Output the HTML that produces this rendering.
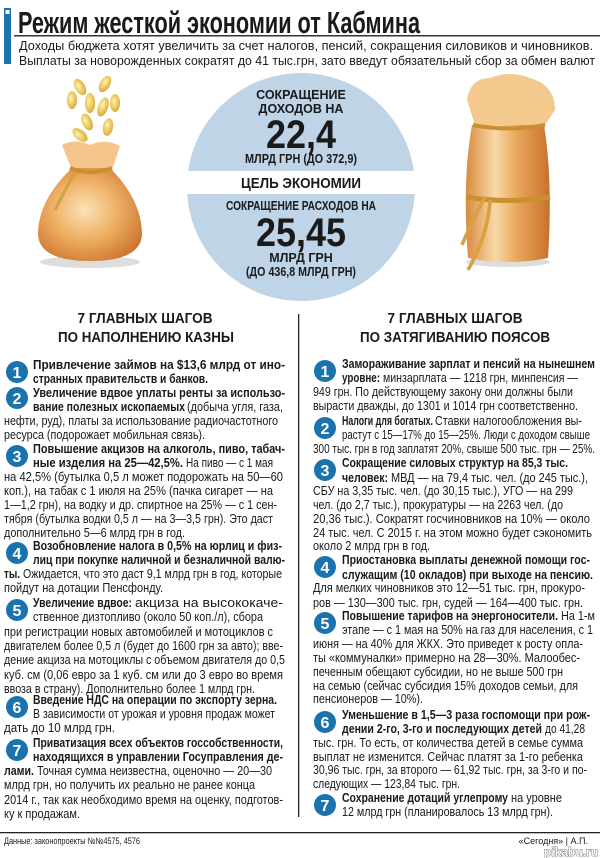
<!DOCTYPE html>
<html><head><meta charset="utf-8"><style>
html,body{margin:0;padding:0;background:#fff;}
svg{display:block;}
text{font-family:"Liberation Sans Narrow","Liberation Sans",sans-serif;fill:#1a1a1a;}
.b{font-weight:bold;font-size:13px;}
.r{font-size:13px;}
.h{font-weight:bold;font-size:14.5px;}
.c{font-weight:bold;}
.n{font-weight:bold;font-size:16px;fill:#fff;}
</style></head><body>
<svg width="600" height="858" viewBox="0 0 600 858" xmlns="http://www.w3.org/2000/svg">
<defs>
<radialGradient id="bag" cx="45%" cy="45%" r="65%"><stop offset="0" stop-color="#fbe3b8"/><stop offset="0.5" stop-color="#eeae62"/><stop offset="1" stop-color="#c9722c"/></radialGradient>
<linearGradient id="bag2" x1="0" x2="1"><stop offset="0" stop-color="#d98a3e"/><stop offset="0.35" stop-color="#f8d9a8"/><stop offset="0.6" stop-color="#eaa95c"/><stop offset="1" stop-color="#c7712c"/></linearGradient>
<radialGradient id="coin" cx="40%" cy="40%" r="70%"><stop offset="0" stop-color="#fff3b0"/><stop offset="1" stop-color="#d7a322"/></radialGradient>
</defs>
<!-- header -->
<rect x="4" y="8" width="7" height="56" fill="#1b73ad"/>
<rect x="5.5" y="10" width="4" height="4" fill="#fff"/>
<text x="18" y="33" style="font-weight:bold;font-size:31px" textLength="402" lengthAdjust="spacingAndGlyphs">Режим жесткой экономии от Кабмина</text>
<rect x="14" y="35" width="586" height="1.5" fill="#333"/>
<text x="19" y="50" style="font-size:13px" textLength="574" lengthAdjust="spacingAndGlyphs">Доходы бюджета хотят увеличить за счет налогов, пенсий, сокращения силовиков и чиновников.</text>
<text x="19" y="65" style="font-size:13px" textLength="576" lengthAdjust="spacingAndGlyphs">Выплаты за новорожденных сократят до 41 тыс.грн, зато введут обязательный сбор за обмен валют</text>
<!-- circle -->
<circle cx="301" cy="187" r="114" fill="#bfd4e6"/>
<rect x="180" y="171" width="245" height="23" fill="#fff"/>
<text x="301" y="99" class="c" style="font-size:12.5px" text-anchor="middle">СОКРАЩЕНИЕ</text>
<text x="301" y="113" class="c" style="font-size:12.5px" text-anchor="middle">ДОХОДОВ НА</text>
<text x="301" y="148" class="c" style="font-size:40px" text-anchor="middle" textLength="70" lengthAdjust="spacingAndGlyphs">22,4</text>
<text x="301" y="163" class="c" style="font-size:12.5px" text-anchor="middle" textLength="112" lengthAdjust="spacingAndGlyphs">МЛРД ГРН (ДО 372,9)</text>
<text x="301" y="188" class="c" style="font-size:15px" text-anchor="middle" textLength="120" lengthAdjust="spacingAndGlyphs">ЦЕЛЬ ЭКОНОМИИ</text>
<text x="301" y="210" class="c" style="font-size:12.5px" text-anchor="middle" textLength="150" lengthAdjust="spacingAndGlyphs">СОКРАЩЕНИЕ РАСХОДОВ НА</text>
<text x="301" y="246" class="c" style="font-size:40px" text-anchor="middle" textLength="90" lengthAdjust="spacingAndGlyphs">25,45</text>
<text x="301" y="262" class="c" style="font-size:12.5px" text-anchor="middle">МЛРД ГРН</text>
<text x="301" y="276" class="c" style="font-size:12.5px" text-anchor="middle" textLength="110" lengthAdjust="spacingAndGlyphs">(ДО 436,8 МЛРД ГРН)</text>
<!-- left bag -->
<g>
<ellipse cx="90" cy="262" rx="50" ry="6" fill="#ddd"/>
<ellipse cx="80" cy="87" rx="5" ry="9" fill="url(#coin)" transform="rotate(-30 80 87)"/>
<ellipse cx="105" cy="84" rx="5" ry="9" fill="url(#coin)" transform="rotate(30 105 84)"/>
<ellipse cx="72" cy="100" rx="5" ry="9" fill="url(#coin)"/>
<ellipse cx="90" cy="103" rx="5" ry="10" fill="url(#coin)"/>
<ellipse cx="103" cy="107" rx="5" ry="10" fill="url(#coin)" transform="rotate(20 103 107)"/>
<ellipse cx="115" cy="103" rx="5" ry="9" fill="url(#coin)"/>
<ellipse cx="87" cy="122" rx="5" ry="9" fill="url(#coin)" transform="rotate(-25 87 122)"/>
<ellipse cx="108" cy="127" rx="5" ry="9" fill="url(#coin)" transform="rotate(10 108 127)"/>
<ellipse cx="80" cy="135" rx="5" ry="9" fill="url(#coin)" transform="rotate(-50 80 135)"/>
<path d="M62 145 Q75 138 90 145 Q105 138 120 146 L112 170 L72 170 Z" fill="#f3c58a"/>
<path d="M72 168 Q38 200 38 235 Q40 261 90 261 Q140 261 142 235 Q142 200 110 168 Z" fill="url(#bag)"/>
<path d="M70 168 Q90 176 112 168" stroke="#c99030" stroke-width="4" fill="none"/>
<path d="M75 172 Q65 190 55 210" stroke="#d7a040" stroke-width="3" fill="none"/>
</g>
<!-- right bag -->
<g>
<ellipse cx="508" cy="262" rx="42" ry="5" fill="#ddd"/>
<path d="M467 100 Q470 78 490 78 Q510 70 530 78 Q555 85 555 110 L545 125 L475 125 Z" fill="#f3c98e"/>
<path d="M472 125 Q462 180 468 258 Q508 266 548 258 Q553 180 544 125 Z" fill="url(#bag2)"/>
<path d="M473 125 Q508 132 545 125" stroke="#c99030" stroke-width="4" fill="none"/>
<path d="M466 197 Q508 204 550 197" stroke="#c99030" stroke-width="5" fill="none"/>
<path d="M485 197 Q470 225 462 245 M490 200 Q488 235 468 270" stroke="#d7a040" stroke-width="3.5" fill="none"/>
</g>
<!-- headings -->
<text x="145" y="323" class="h" text-anchor="middle" textLength="135" lengthAdjust="spacingAndGlyphs">7 ГЛАВНЫХ ШАГОВ</text>
<text x="146" y="342" class="h" text-anchor="middle" textLength="176" lengthAdjust="spacingAndGlyphs">ПО НАПОЛНЕНИЮ КАЗНЫ</text>
<text x="455" y="323" class="h" text-anchor="middle" textLength="135" lengthAdjust="spacingAndGlyphs">7 ГЛАВНЫХ ШАГОВ</text>
<text x="455" y="342" class="h" text-anchor="middle" textLength="190" lengthAdjust="spacingAndGlyphs">ПО ЗАТЯГИВАНИЮ ПОЯСОВ</text>
<rect x="298" y="314" width="1.3" height="503" fill="#222"/>
<!-- number circles -->
<g fill="#1b73ad">
<circle cx="17" cy="372" r="11"/><circle cx="17" cy="398" r="11"/><circle cx="17" cy="456" r="11"/><circle cx="17" cy="553" r="11"/><circle cx="17" cy="610" r="11"/><circle cx="17" cy="707" r="11"/><circle cx="17" cy="750" r="11"/>
<circle cx="325" cy="371" r="11"/><circle cx="325" cy="428" r="11"/><circle cx="325" cy="470" r="11"/><circle cx="325" cy="567" r="11"/><circle cx="325" cy="623" r="11"/><circle cx="325" cy="722" r="11"/><circle cx="325" cy="805" r="11"/>
</g>
<g text-anchor="middle">
<text class="n" x="17" y="378">1</text><text class="n" x="17" y="404">2</text><text class="n" x="17" y="462">3</text><text class="n" x="17" y="559">4</text><text class="n" x="17" y="616">5</text><text class="n" x="17" y="713">6</text><text class="n" x="17" y="756">7</text>
<text class="n" x="325" y="377">1</text><text class="n" x="325" y="434">2</text><text class="n" x="325" y="476">3</text><text class="n" x="325" y="573">4</text><text class="n" x="325" y="629">5</text><text class="n" x="325" y="728">6</text><text class="n" x="325" y="811">7</text>
</g>
<!-- left column -->
<g>
<text class="b" x="33" y="369" textLength="252" lengthAdjust="spacingAndGlyphs">Привлечение займов на $13,6 млрд от ино-</text>
<text class="b" x="33" y="383" textLength="175" lengthAdjust="spacingAndGlyphs">странных правительств и банков.</text>
<text class="b" x="33" y="397" textLength="252" lengthAdjust="spacingAndGlyphs">Увеличение вдвое уплаты ренты за использо-</text>
<text class="b" x="33" y="411" textLength="152" lengthAdjust="spacingAndGlyphs">вание полезных ископаемых</text>
<text class="r" x="187" y="411" textLength="96" lengthAdjust="spacingAndGlyphs">(добыча угля, газа,</text>
<text class="r" x="4" y="425" textLength="274" lengthAdjust="spacingAndGlyphs">нефти, руд), платы за использование радиочастотного</text>
<text class="r" x="4" y="439" textLength="201" lengthAdjust="spacingAndGlyphs">ресурса (подорожает мобильная связь).</text>
<text class="b" x="33" y="453" textLength="252" lengthAdjust="spacingAndGlyphs">Повышение акцизов на алкоголь, пиво, табач-</text>
<text class="b" x="33" y="467" textLength="150" lengthAdjust="spacingAndGlyphs">ные изделия на 25—42,5%.</text>
<text class="r" x="186" y="467" textLength="87" lengthAdjust="spacingAndGlyphs">На пиво — с 1 мая</text>
<text class="r" x="4" y="481" textLength="279" lengthAdjust="spacingAndGlyphs">на 42,5% (бутылка 0,5 л может подорожать на 50—60</text>
<text class="r" x="4" y="495" textLength="269" lengthAdjust="spacingAndGlyphs">коп.), на табак с 1 июля на 25% (пачка сигарет — на</text>
<text class="r" x="4" y="509" textLength="273" lengthAdjust="spacingAndGlyphs">1—1,2 грн), на водку и др. спиртное на 25% — с 1 сен-</text>
<text class="r" x="4" y="523" textLength="269" lengthAdjust="spacingAndGlyphs">тября (бутылка водки 0,5 л — на 3—3,5 грн). Это даст</text>
<text class="r" x="4" y="537" textLength="181" lengthAdjust="spacingAndGlyphs">дополнительно 5—6 млрд грн в год.</text>
<text class="b" x="33" y="550" textLength="249" lengthAdjust="spacingAndGlyphs">Возобновление налога в 0,5% на юрлиц и физ-</text>
<text class="b" x="33" y="564" textLength="252" lengthAdjust="spacingAndGlyphs">лиц при покупке наличной и безналичной валю-</text>
<text class="b" x="4" y="578" textLength="16" lengthAdjust="spacingAndGlyphs">ты.</text>
<text class="r" x="23" y="578" textLength="259" lengthAdjust="spacingAndGlyphs">Ожидается, что это даст 9,1 млрд грн в год, которые</text>
<text class="r" x="4" y="592" textLength="159" lengthAdjust="spacingAndGlyphs">пойдут на дотации Пенсфонду.</text>
<text class="b" x="33" y="607" textLength="99" lengthAdjust="spacingAndGlyphs">Увеличение вдвое:</text>
<text class="r" x="135" y="607" textLength="148" lengthAdjust="spacingAndGlyphs">акциза на высококаче-</text>
<text class="r" x="33" y="621" textLength="230" lengthAdjust="spacingAndGlyphs">ственное дизтопливо (около 50 коп./л), сбора</text>
<text class="r" x="4" y="636" textLength="269" lengthAdjust="spacingAndGlyphs">при регистрации новых автомобилей и мотоциклов с</text>
<text class="r" x="4" y="650" textLength="279" lengthAdjust="spacingAndGlyphs">двигателем более 0,5 л (будет до 1600 грн за авто); вве-</text>
<text class="r" x="4" y="664" textLength="281" lengthAdjust="spacingAndGlyphs">дение акциза на мотоциклы с объемом двигателя до 0,5</text>
<text class="r" x="4" y="679" textLength="279" lengthAdjust="spacingAndGlyphs">куб. см (0,06 евро за 1 куб. см или до 3 евро во время</text>
<text class="r" x="4" y="693" textLength="251" lengthAdjust="spacingAndGlyphs">ввоза в страну). Дополнительно более 1 млрд грн.</text>
<text class="b" x="33" y="704" textLength="244" lengthAdjust="spacingAndGlyphs">Введение НДС на операции по экспорту зерна.</text>
<text class="r" x="33" y="718" textLength="242" lengthAdjust="spacingAndGlyphs">В зависимости от урожая и уровня продаж может</text>
<text class="r" x="4" y="732" textLength="111" lengthAdjust="spacingAndGlyphs">дать до 10 млрд грн.</text>
<text class="b" x="33" y="747" textLength="250" lengthAdjust="spacingAndGlyphs">Приватизация всех объектов госсобственности,</text>
<text class="b" x="33" y="761" textLength="250" lengthAdjust="spacingAndGlyphs">находящихся в управлении Госуправления де-</text>
<text class="b" x="4" y="775" textLength="30" lengthAdjust="spacingAndGlyphs">лами.</text>
<text class="r" x="37" y="775" textLength="235" lengthAdjust="spacingAndGlyphs">Точная сумма неизвестна, оценочно — 20—30</text>
<text class="r" x="4" y="789" textLength="251" lengthAdjust="spacingAndGlyphs">млрд грн, но получить их реально не ранее конца</text>
<text class="r" x="4" y="804" textLength="279" lengthAdjust="spacingAndGlyphs">2014 г., так как необходимо время на оценку, подготов-</text>
<text class="r" x="4" y="818" textLength="76" lengthAdjust="spacingAndGlyphs">ку к продажам.</text>
</g>
<!-- right column -->
<g>
<text class="b" x="342" y="368" textLength="253" lengthAdjust="spacingAndGlyphs">Замораживание зарплат и пенсий на нынешнем</text>
<text class="b" x="342" y="382" textLength="38" lengthAdjust="spacingAndGlyphs">уровне:</text>
<text class="r" x="383" y="382" textLength="195" lengthAdjust="spacingAndGlyphs">минзарплата — 1218 грн, минпенсия —</text>
<text class="r" x="313" y="396" textLength="260" lengthAdjust="spacingAndGlyphs">949 грн. По действующему закону они должны были</text>
<text class="r" x="313" y="410" textLength="265" lengthAdjust="spacingAndGlyphs">вырасти дважды,  до 1301 и 1014 грн соответственно.</text>
<text class="b" x="342" y="425" textLength="91" lengthAdjust="spacingAndGlyphs">Налоги для богатых.</text>
<text class="r" x="435" y="425" textLength="147" lengthAdjust="spacingAndGlyphs">Ставки налогообложения вы-</text>
<text class="r" x="342" y="439" textLength="248" lengthAdjust="spacingAndGlyphs">растут с 15—17% до 15—25%. Люди с доходом свыше</text>
<text class="r" x="313" y="453" textLength="282" lengthAdjust="spacingAndGlyphs">300 тыс. грн в год заплатят 20%, свыше 500 тыс. грн — 25%.</text>
<text class="b" x="342" y="467" textLength="226" lengthAdjust="spacingAndGlyphs">Сокращение силовых структур на 85,3 тыс.</text>
<text class="b" x="342" y="482" textLength="46" lengthAdjust="spacingAndGlyphs">человек:</text>
<text class="r" x="391" y="482" textLength="197" lengthAdjust="spacingAndGlyphs">МВД — на 79,4 тыс. чел. (до 245 тыс.),</text>
<text class="r" x="313" y="495" textLength="260" lengthAdjust="spacingAndGlyphs">СБУ на 3,35 тыс. чел. (до 30,15 тыс.), УГО — на 299</text>
<text class="r" x="313" y="509" textLength="250" lengthAdjust="spacingAndGlyphs">чел. (до 2,7 тыс.), прокуратуры — на 2263 чел. (до</text>
<text class="r" x="313" y="523" textLength="277" lengthAdjust="spacingAndGlyphs">20,36 тыс.). Сократят госчиновников на 10% — около</text>
<text class="r" x="313" y="537" textLength="279" lengthAdjust="spacingAndGlyphs">24 тыс. чел. С 2015 г. на этом можно будет сэкономить</text>
<text class="r" x="313" y="550" textLength="117" lengthAdjust="spacingAndGlyphs">около 2 млрд грн в год.</text>
<text class="b" x="342" y="564" textLength="248" lengthAdjust="spacingAndGlyphs">Приостановка выплаты денежной помощи гос-</text>
<text class="b" x="342" y="579" textLength="251" lengthAdjust="spacingAndGlyphs">служащим (10 окладов) при выходе на пенсию.</text>
<text class="r" x="313" y="592" textLength="272" lengthAdjust="spacingAndGlyphs">Для мелких чиновников это 12—51 тыс. грн, прокуро-</text>
<text class="r" x="313" y="607" textLength="270" lengthAdjust="spacingAndGlyphs">ров — 130—300 тыс. грн, судей — 164—400 тыс. грн.</text>
<text class="b" x="342" y="620" textLength="216" lengthAdjust="spacingAndGlyphs">Повышение тарифов на энергоносители.</text>
<text class="r" x="561" y="620" textLength="34" lengthAdjust="spacingAndGlyphs">На 1-м</text>
<text class="r" x="342" y="634" textLength="251" lengthAdjust="spacingAndGlyphs">этапе — с 1 мая на 50% на газ для населения, с 1</text>
<text class="r" x="313" y="648" textLength="270" lengthAdjust="spacingAndGlyphs">июня — на 40% для ЖКХ. Это приведет к росту опла-</text>
<text class="r" x="313" y="662" textLength="267" lengthAdjust="spacingAndGlyphs">ты «коммуналки» примерно на 28—30%. Малообес-</text>
<text class="r" x="313" y="676" textLength="250" lengthAdjust="spacingAndGlyphs">печенным обещают субсидии, но не выше 500 грн</text>
<text class="r" x="313" y="690" textLength="265" lengthAdjust="spacingAndGlyphs">на семью (сейчас субсидия 15% доходов семьи, для</text>
<text class="r" x="313" y="703" textLength="110" lengthAdjust="spacingAndGlyphs">пенсионеров — 10%).</text>
<text class="b" x="342" y="719" textLength="248" lengthAdjust="spacingAndGlyphs">Уменьшение в 1,5—3 раза госпомощи при рож-</text>
<text class="b" x="342" y="733" textLength="200" lengthAdjust="spacingAndGlyphs">дении 2-го, 3-го и последующих детей</text>
<text class="r" x="545" y="733" textLength="40" lengthAdjust="spacingAndGlyphs">до 41,28</text>
<text class="r" x="313" y="747" textLength="270" lengthAdjust="spacingAndGlyphs">тыс. грн. То есть, от количества детей в семье сумма</text>
<text class="r" x="313" y="761" textLength="270" lengthAdjust="spacingAndGlyphs">выплат не изменится. Сейчас платят за 1-го ребенка</text>
<text class="r" x="313" y="774" textLength="274" lengthAdjust="spacingAndGlyphs">30,96 тыс. грн, за второго — 61,92 тыс. грн, за 3-го и по-</text>
<text class="r" x="313" y="788" textLength="147" lengthAdjust="spacingAndGlyphs">следующих — 123,84 тыс. грн.</text>
<text class="b" x="342" y="802" textLength="166" lengthAdjust="spacingAndGlyphs">Сохранение дотаций углепрому</text>
<text class="r" x="511" y="802" textLength="51" lengthAdjust="spacingAndGlyphs">на уровне</text>
<text class="r" x="342" y="816" textLength="211" lengthAdjust="spacingAndGlyphs">12 млрд грн (планировалось 13 млрд грн).</text>
</g>
<!-- footer -->
<rect x="0" y="832" width="600" height="1.3" fill="#222"/>
<text x="4" y="844" style="font-size:9px" textLength="136" lengthAdjust="spacingAndGlyphs">Данные: законопроекты №№4575, 4576</text>
<text x="588" y="844" style="font-size:9px" text-anchor="end">«Сегодня» | А.П.</text>
<text x="598" y="856" style="font-size:12px;font-weight:bold;fill:#fff;stroke:#555;stroke-width:0.8;paint-order:stroke" text-anchor="end">pikabu.ru</text>
</svg>
</body></html>
